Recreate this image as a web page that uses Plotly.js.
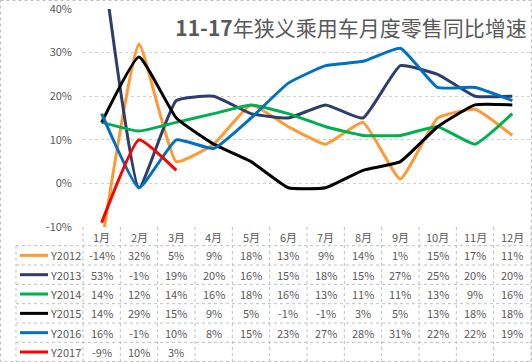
<!DOCTYPE html>
<html><head><meta charset="utf-8">
<script src="https://cdn.plot.ly/plotly-3.0.1.min.js"></script>
<style>html,body{margin:0;padding:0;background:#fff;}</style>
</head><body><div id="chart" style="width:532px;height:362px;"></div>
<script>
const months = ['1月','2月','3月','4月','5月','6月','7月','8月','9月','10月','11月','12月'];
const seriesNames = ['Y2012','Y2013','Y2014','Y2015','Y2016','Y2017'];
const y2012 = [-14, 32, 5, 9, 18, 13, 9, 14, 1, 15, 17, 11];
const y2013 = [53, -1, 19, 20, 16, 15, 18, 15, 27, 25, 20, 20];
const y2014 = [14, 12, 14, 16, 18, 16, 13, 11, 11, 13, 9, 16];
const y2015 = [14, 29, 15, 9, 5, -1, -1, 3, 5, 13, 18, 18];
const y2016 = [16, -1, 10, 8, 15, 23, 27, 28, 31, 22, 22, 19];
const y2017 = [-9, 10, 3];
const yTicks = [-10, 0, 10, 20, 30, 40];
const titleBold = '11-17';
const titleRest = '年狭义乘用车月度零售同比增速';

const seriesValues = [y2012, y2013, y2014, y2015, y2016, y2017];
const colors = ['#FF9933', '#2E3D6A', '#00B050', '#000000', '#0070C0', '#FF0000'];

const W = 532, H = 362, L = 83, T = 9, R = 1, PW = W - L - R, PH = 218;
const B = H - T - PH;
const px = x => (x - L) / PW;
const py = y => (T + PH - y) / PH;

const traces = seriesValues.map((vals, i) => ({
  type: 'scatter', mode: 'lines', name: seriesNames[i],
  x: months.slice(0, vals.length), y: vals,
  line: {color: colors[i], width: 3, shape: 'spline', smoothing: 0.4},
  hoverinfo: 'skip'
}));

const grid = {type: 'line', line: {color: '#BFBFBF', width: 1, dash: 'dot'}, layer: 'below'};
const shapes = [];
const annotations = [];
const textFont = {family: 'Noto Sans CJK SC, Noto Sans, sans-serif', size: 11, color: '#595959'};

const tableTop = 227, headerBottom = 245.7, rowH = 19.33, legendLeft = 16, right = 531;
for (let r = 0; r <= seriesNames.length; r++) {
  const y = headerBottom + r * rowH;
  shapes.push(Object.assign({}, grid, {xref: 'paper', yref: 'paper', x0: px(legendLeft), x1: px(right), y0: py(y), y1: py(y)}));
}
for (let c = 0; c <= months.length; c++) {
  const x = L + c * PW / months.length;
  shapes.push(Object.assign({}, grid, {xref: 'paper', yref: 'paper', x0: px(x), x1: px(x), y0: py(tableTop), y1: py(H - 0.5)}));
}
shapes.push(Object.assign({}, grid, {xref: 'paper', yref: 'paper', x0: px(legendLeft), x1: px(legendLeft), y0: py(headerBottom), y1: py(H - 0.5)}));
shapes.push({type: 'rect', xref: 'paper', yref: 'paper', x0: px(0.5), x1: px(W - 0.5), y0: py(0.5), y1: py(H - 0.5),
  line: {color: '#BFBFBF', width: 1, dash: 'dot'}, layer: 'below'});

months.forEach((m, i) => {
  annotations.push({xref: 'x', yref: 'paper', x: m, y: py(236.5), text: m, showarrow: false, font: textFont, xanchor: 'center', yanchor: 'middle'});
});
seriesNames.forEach((name, r) => {
  const yc = headerBottom + r * rowH + rowH / 2;
  shapes.push({type: 'line', xref: 'paper', yref: 'paper', x0: px(20), x1: px(48), y0: py(yc), y1: py(yc), line: {color: colors[r], width: 3}});
  annotations.push({xref: 'paper', yref: 'paper', x: px(48), y: py(yc), text: name, showarrow: false, font: textFont, xanchor: 'left', yanchor: 'middle'});
  seriesValues[r].forEach((v, i) => {
    annotations.push({xref: 'x', yref: 'paper', x: months[i], y: py(yc), text: v + '%', showarrow: false, font: textFont, xanchor: 'center', yanchor: 'middle'});
  });
});

const layout = {
  width: W, height: H,
  margin: {l: L, r: R, t: T, b: B, pad: 0},
  paper_bgcolor: '#fff', plot_bgcolor: '#fff',
  showlegend: false,
  title: {text: '<b>' + titleBold + '</b>' + titleRest, xref: 'paper', x: px(351), xanchor: 'center', yref: 'container', y: 1 - 29 / H, yanchor: 'middle',
    font: {family: 'Noto Sans CJK SC, sans-serif', size: 21, color: '#595959'}},
  xaxis: {type: 'category', range: [-0.5, 11.5], showticklabels: false, showgrid: false, zeroline: false, showline: false, ticks: '', fixedrange: true},
  yaxis: {range: [-10, 40], tickvals: yTicks, ticktext: yTicks.map(v => v + '%'), showgrid: true, gridcolor: '#D0D0D0', griddash: 'dot', gridwidth: 1,
    zeroline: false, showline: false, ticks: '', ticklabelstandoff: 10, ticklabeloverflow: 'allow', tickfont: textFont, fixedrange: true},
  shapes: shapes, annotations: annotations
};

Plotly.newPlot('chart', traces, layout, {displayModeBar: false, staticPlot: true});
</script></body></html>
